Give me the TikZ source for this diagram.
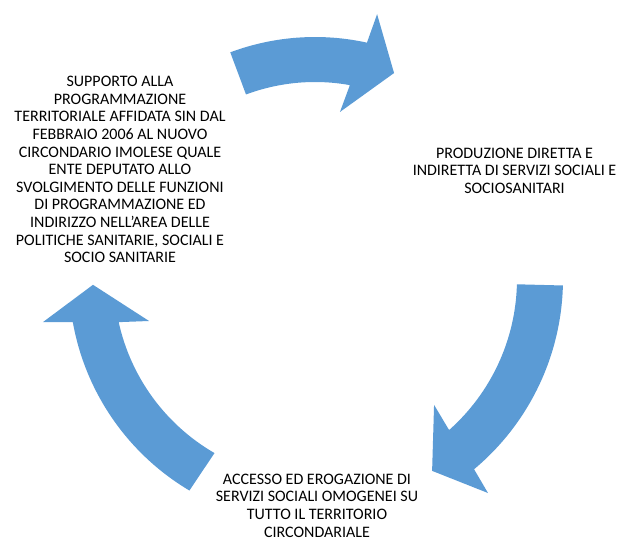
\documentclass[tikz,border=0pt]{standalone}
\usepackage{fontspec}
\setmainfont{Carlito}
\definecolor{arrowblue}{HTML}{5B9BD5}
\begin{document}
\begin{tikzpicture}[x=0.75pt,y=0.75pt,
  cyclearrow/.style={fill=arrowblue, draw=none},
  cycletext/.style={font=\fontsize{12}{13.2}\selectfont, align=center, inner sep=0pt, text=black}]
\useasboundingbox (0,0) rectangle (619,540);
\coordinate (C) at (315,261);

% top arrow
\path (C) ++(110.5:242) coordinate (ta1)
      (C) ++(76.8:272) coordinate (ta3)
      (C) ++(69.0:220.6) coordinate (ta4)
      (C) ++(81.5:168.9) coordinate (ta5)
      (C) ++(79.8:197) coordinate (ta6);
\path[cyclearrow] (ta1) arc[start angle=110.5, end angle=77.6, radius=242]
  -- (ta3) -- (ta4) -- (ta5) -- (ta6)
  arc[start angle=79.8, end angle=110.5, radius=197] -- cycle;

% right arrow
\path (C) ++(-1.5:248) coordinate (ra1)
      (C) ++(-51.05:275.2) coordinate (ra3)
      (C) ++(-58.6:224.8) coordinate (ra4)
      (C) ++(-46.6:173.3) coordinate (ra5)
      (C) ++(-48.4:202) coordinate (ra6);
\path[cyclearrow] (ra1) arc[start angle=-1.5, end angle=-50.1, radius=248]
  -- (ra3) -- (ra4) -- (ra5) -- (ra6)
  arc[start angle=-48.4, end angle=-1.5, radius=202] -- cycle;

% left arrow
\path (C) ++(239.3:246) coordinate (la1)
      (C) ++(189.0:275.4) coordinate (la3)
      (C) ++(181.5:222.1) coordinate (la4)
      (C) ++(194.2:171.2) coordinate (la5)
      (C) ++(192.4:201) coordinate (la6);
\path[cyclearrow] (la1) arc[start angle=239.3, end angle=190.1, radius=246]
  -- (la3) -- (la4) -- (la5) -- (la6)
  arc[start angle=192.4, end angle=240, radius=201] -- cycle;

\node[cycletext] (support) at (120,370.5) {SUPPORTO ALLA\\PROGRAMMAZIONE\\TERRITORIALE AFFIDATA SIN DAL\\FEBBRAIO 2006 AL NUOVO\\CIRCONDARIO IMOLESE QUALE\\ENTE DEPUTATO ALLO\\SVOLGIMENTO DELLE FUNZIONI\\DI PROGRAMMAZIONE ED\\INDIRIZZO NELL’AREA DELLE\\POLITICHE SANITARIE, SOCIALI E\\SOCIO SANITARIE};
\node[cycletext] (produzione) at (514.5,369.5) {PRODUZIONE DIRETTA E\\INDIRETTA DI SERVIZI SOCIALI E\\SOCIOSANITARI};
\node[cycletext] (accesso) at (317,34.5) {ACCESSO ED EROGAZIONE DI\\SERVIZI SOCIALI OMOGENEI SU\\TUTTO IL TERRITORIO\\CIRCONDARIALE};
\end{tikzpicture}
\end{document}
